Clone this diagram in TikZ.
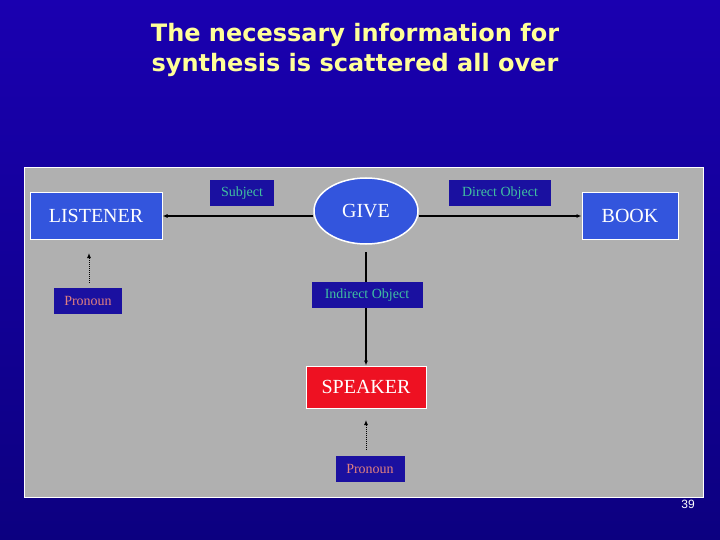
\documentclass[tikz,border=0pt]{standalone}
\usepackage{fontspec}
\setmainfont{Liberation Serif}
\newfontfamily\titlefont{DejaVu Sans}
\newfontfamily\numfont{Liberation Sans}
\usetikzlibrary{shapes.geometric,arrows.meta}
\definecolor{bgtop}{HTML}{1A00B0}
\definecolor{bgbot}{HTML}{0C0080}
\definecolor{panel}{HTML}{B0B0B0}
\definecolor{boxblue}{HTML}{3355DD}
\definecolor{lblblue}{HTML}{1A10A0}
\definecolor{lbltext}{HTML}{40C0A0}
\definecolor{pink}{HTML}{E08080}
\definecolor{spkred}{HTML}{EE1122}
\definecolor{ttl}{HTML}{FFFF99}
\begin{document}
\begin{tikzpicture}[x=1pt,y=-1pt,
  bigbox/.style={draw=white,line width=1pt,fill=boxblue,text=white,font=\fontsize{20}{22}\selectfont,minimum height=47pt,inner sep=0pt},
  lbl/.style={fill=lblblue,text=lbltext,font=\fontsize{14}{16}\selectfont,minimum height=26pt,inner sep=0pt},
  pro/.style={fill=lblblue,text=pink,font=\fontsize{14}{16}\selectfont,minimum height=26pt,minimum width=68pt,inner sep=0pt},
  arr/.style={-{Latex[length=5pt,width=4pt]},line width=1.3pt},
  darr/.style={-{Latex[length=5pt,width=4pt]},line width=1pt,densely dotted}]
\useasboundingbox (0,0) rectangle (720,540);
\shade[top color=bgtop,bottom color=bgbot] (0,0) rectangle (720,540);
\draw[white,fill=panel,line width=1pt] (24,168) rectangle (703,497);
\node[text=ttl,font=\titlefont\bfseries\fontsize{24}{30}\selectfont,align=center] (title) at (355,50) {The necessary information for\\synthesis is scattered all over};
\node[bigbox,minimum width=132pt] (listener) at (96,216) {LISTENER};
\node[bigbox,minimum width=96pt] (book) at (630,216) {BOOK};
\node[ellipse,draw=white,line width=1.5pt,fill=boxblue,text=white,font=\fontsize{20}{22}\selectfont,minimum width=104pt,minimum height=66pt,inner sep=0pt] (give) at (366,211) {GIVE};
\node[lbl,minimum width=64pt] (subj) at (242,193) {Subject};
\node[lbl,minimum width=102pt] (dobj) at (500,193) {Direct Object};
\draw[arr] (give.west |- 0,216) -- (listener.east |- 0,216);
\draw[arr] (give.east |- 0,216) -- (book.west |- 0,216);
\node[bigbox,fill=spkred,minimum width=120pt,minimum height=42pt] (speaker) at (366,387) {SPEAKER};
\coordinate (vtop) at (366,252);
\draw[arr] (vtop) -- (speaker.north);
\node[lbl,minimum width=111pt] (iobj) at (367,295) {Indirect Object};
\node[pro] (pro1) at (88,301) {Pronoun};
\node[pro,minimum width=69pt] (pro2) at (370,469) {Pronoun};
\draw[darr] (pro1.north -| 89,0) ++(0,-5) -- (89,253);
\draw[darr] (366,450) -- (366,420);
\node[text=white,font=\numfont\fontsize{12}{14}\selectfont] (num) at (688,504) {39};
\end{tikzpicture}
\end{document}
